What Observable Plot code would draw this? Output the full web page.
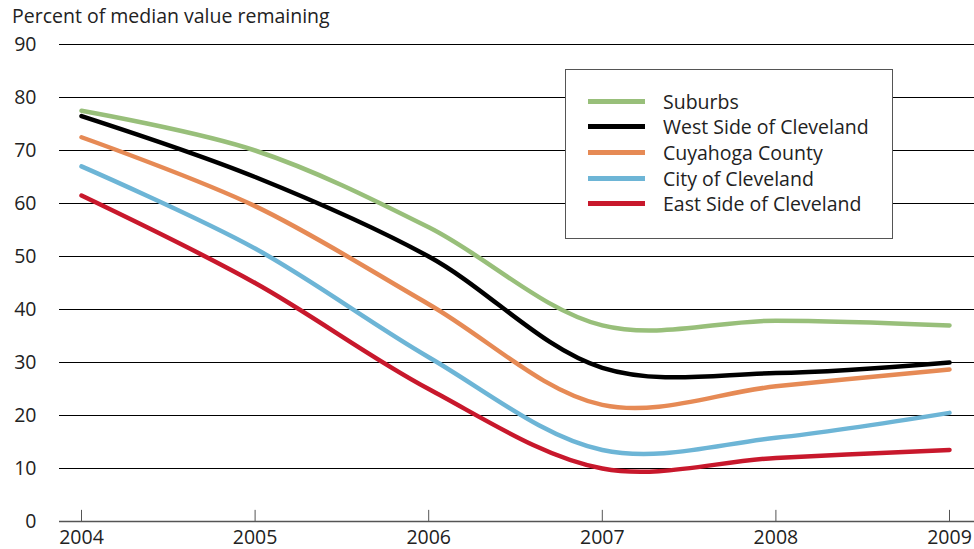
<!DOCTYPE html>
<html>
<head>
<meta charset="utf-8">
<script src="https://cdn.jsdelivr.net/npm/d3@7"></script>
<script src="https://cdn.jsdelivr.net/npm/@observablehq/plot@0.6"></script>
<style>
  body { margin: 0; background: #fff; font-family: "Open Sans", sans-serif; }
  #wrap { position: relative; width: 974px; height: 549px; }
  #title { position: absolute; left: 12px; top: 4px; font-size: 19.5px; line-height: 24px; color: #222; }
  #legend { position: absolute; left: 565px; top: 69px; width: 328px; height: 170px;
            background: #fff; border: 1px solid #555; box-sizing: border-box; }
  .item { position: absolute; left: 22px; height: 20px; display: flex; align-items: center; font-size: 19.5px; color: #222; }
  .sw { width: 57px; height: 5px; margin-right: 18px; }
</style>
</head>
<body>
<div id="wrap">
  <div id="chart"></div>
  <div id="title">Percent of median value remaining</div>
  <div id="legend"></div>
</div>
<script>
const years = [2004, 2005, 2006, 2007, 2008, 2009];
const seriesNames = ["Suburbs", "West Side of Cleveland", "Cuyahoga County", "City of Cleveland", "East Side of Cleveland"];
const colors = ["#98bf7a", "#000000", "#e68a55", "#6db5d6", "#c8182c"];
const suburbs  = [77.5, 70.0, 55.5, 37.0, 37.9, 37.0];
const westSide = [76.5, 65.0, 50.0, 29.0, 28.0, 30.0];
const cuyahoga = [72.5, 59.5, 41.0, 22.0, 25.5, 28.7];
const city     = [67.0, 51.5, 31.0, 13.5, 15.8, 20.5];
const eastSide = [61.5, 45.0, 25.0, 10.0, 12.0, 13.5];
const yTicks = [0, 10, 20, 30, 40, 50, 60, 70, 80, 90];

const allSeries = [suburbs, westSide, cuyahoga, city, eastSide];
const data = [];
allSeries.forEach((vals, i) => vals.forEach((v, j) => data.push({series: seriesNames[i], year: years[j], value: v})));

const chart = Plot.plot({
  width: 974,
  height: 549,
  marginTop: 44,
  marginBottom: 28,
  marginLeft: 59,
  marginRight: 0,
  style: {fontFamily: "Open Sans, sans-serif", fontSize: "19.5px", color: "#222"},
  x: {domain: [2004, 2009], insetLeft: 22, insetRight: 25},
  y: {domain: [0, 90]},
  color: {domain: seriesNames, range: colors},
  marks: [
    Plot.gridY(yTicks, {stroke: "#000", strokeOpacity: 1, strokeWidth: 1}),
    Plot.axisY(yTicks, {tickSize: 0, tickPadding: 23, label: null, fontSize: 19.5}),
    Plot.axisX(years, {tickSize: 0, tickPadding: 9, tickFormat: d => String(d), label: null, fontSize: 19.5}),
    Plot.ruleY([0], {stroke: "#555", strokeWidth: 1.5}),
    Plot.ruleX(years, {x: d => d, y1: 0, y2: 2.1, stroke: "#555", strokeWidth: 1}),
    Plot.line(data, {x: "year", y: "value", z: "series", stroke: "series", strokeWidth: 4.5, curve: "catmull-rom"})
  ]
});
document.getElementById("chart").appendChild(chart);

const legend = document.getElementById("legend");
seriesNames.forEach((name, i) => {
  const it = document.createElement("div");
  it.className = "item";
  it.style.top = (21 + i * 25.7) + "px";
  it.innerHTML = `<span class="sw" style="background:${colors[i]}"></span><span>${name}</span>`;
  legend.appendChild(it);
});
</script>
</body>
</html>
